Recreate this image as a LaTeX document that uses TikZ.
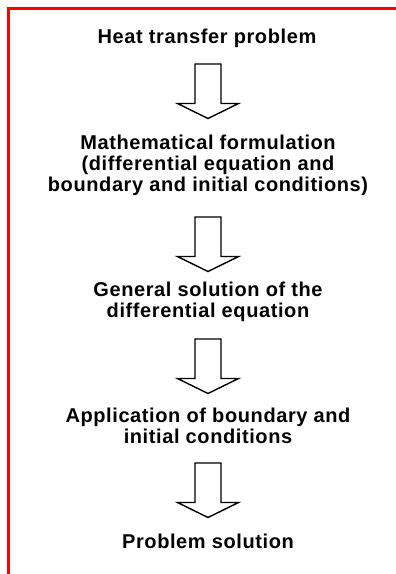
\documentclass[tikz,border=0pt]{standalone}
\usepackage{fontspec}
\setmainfont{Liberation Sans}[LetterSpace=3]
\tikzset{
  x=1pt, y=1pt,
  label text/.style={font=\bfseries\fontsize{20}{21}\selectfont, align=center, inner sep=0pt, anchor=base},
  frame line/.style={draw=red, line width=2.6pt},
  block arrow/.style={draw=black, line width=1.4pt, fill=white, line join=miter},
  pics/downarrow/.style={code={
    \draw[block arrow] (-13,0) -- (13,0) -- (13,-39.5) -- (30.5,-39.5) -- (0,-54.5)
      -- (-30.5,-39.5) -- (-13,-39.5) -- cycle;
  }}
}
\begin{document}
\begin{tikzpicture}
\useasboundingbox (0,0) rectangle (396,-574);
\draw[frame line] (8.5,-574) -- (8.5,-8.5) -- (396,-8.5);

% base anchor of a multi-line node is the baseline of its last line
\node[label text] (t1) at (207,-43) {Heat transfer problem};
\node[label text] (t2) at (208,-191) {Mathematical formulation\\(differential equation and\\boundary and initial conditions)};
\node[label text] (t3) at (208,-317) {General solution of the\\differential equation};
\node[label text] (t4) at (208,-443) {Application of boundary and\\initial conditions};
\node[label text] (t5) at (208,-548) {Problem solution};

\coordinate (a1) at (208,-64);
\coordinate (a2) at (208,-217);
\coordinate (a3) at (208,-339);
\coordinate (a4) at (208,-463);
\pic at (a1) {downarrow};
\pic at (a2) {downarrow};
\pic at (a3) {downarrow};
\pic at (a4) {downarrow};
\end{tikzpicture}
\end{document}
